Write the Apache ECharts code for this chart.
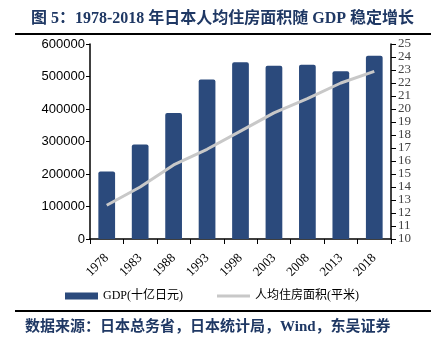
<!DOCTYPE html>
<html><head><meta charset="utf-8">
<script src="https://cdn.jsdelivr.net/npm/echarts@6/dist/echarts.min.js"></script>
<style>html,body{margin:0;padding:0;background:#fff}#c{width:442px;height:339px}</style>
</head><body><div id="c"></div>
<script>
const categories = ['1978','1983','1988','1993','1998','2003','2008','2013','2018'];
const gdpValues = [208000, 291000, 388000, 491000, 544000, 533000, 536000, 516000, 564000];
const areaValues = [12.6, 14.0, 15.7, 16.9, 18.3, 19.7, 20.8, 22.0, 22.9];
const seriesNames = ['GDP(十亿日元)', '人均住房面积(平米)'];
const titleText = '图 5：1978-2018 年日本人均住房面积随 GDP 稳定增长';
const sourceText = '数据来源：日本总务省，日本统计局，Wind，东吴证券';

const chart = echarts.init(document.getElementById('c'), null, {renderer: 'canvas'});
const serifFont = '"Liberation Serif", "Times New Roman", "Noto Sans CJK SC", serif';
const sansFont = '"Liberation Sans", Arial, sans-serif';
chart.setOption({
  animation: false,
  backgroundColor: '#fff',
  title: {
    text: titleText, left: 26, top: 6,
    textStyle: {fontSize: 16, fontWeight: 'bold', color: '#1f3864', fontFamily: '"Liberation Serif", "Noto Sans CJK SC", serif'}
  },
  graphic: [
    {type: 'line', shape: {x1: 15, y1: 34, x2: 431, y2: 34}, style: {stroke: '#000', lineWidth: 2}},
    {type: 'line', shape: {x1: 15, y1: 311, x2: 431, y2: 311}, style: {stroke: '#000', lineWidth: 2}},
    {type: 'text', left: 25, top: 320, style: {text: sourceText, fill: '#1f3864', font: 'bold 15px "Liberation Serif", "Noto Sans CJK SC", serif'}}
  ],
  legend: {
    top: 285, left: 60, itemGap: 34, itemWidth: 33, itemHeight: 7,
    textStyle: {fontSize: 12, color: '#000', fontFamily: serifFont},
    data: [
      {name: seriesNames[0], icon: 'rect'},
      {name: seriesNames[1], icon: 'path://M0,0 H100 V9 H0 Z'}
    ]
  },
  grid: {left: 90, right: 51, top: 44, bottom: 100},
  xAxis: {
    type: 'category', data: categories, boundaryGap: true,
    axisLine: {lineStyle: {color: '#000', width: 1.5}},
    axisTick: {show: true, alignWithLabel: false, length: 5, lineStyle: {color: '#000'}},
    axisLabel: {rotate: 45, fontSize: 13, color: '#000', fontFamily: serifFont, margin: 17}
  },
  yAxis: [
    {
      type: 'value', min: 0, max: 600000, interval: 100000,
      axisLine: {show: true, lineStyle: {color: '#000', width: 1.5}},
      axisTick: {show: true, length: 4, lineStyle: {color: '#000'}},
      splitLine: {show: false},
      axisLabel: {fontSize: 13, color: '#000', fontFamily: sansFont, margin: 5, formatter: function (v) { return String(v); }}
    },
    {
      type: 'value', min: 10, max: 25, interval: 1, position: 'right',
      axisLine: {show: true, lineStyle: {color: '#000', width: 1.5}},
      axisTick: {show: true, length: 5, lineStyle: {color: '#000'}},
      splitLine: {show: false},
      axisLabel: {fontSize: 13, color: '#444', fontFamily: serifFont, margin: 7}
    }
  ],
  series: [
    {
      name: seriesNames[0], type: 'bar', data: gdpValues, yAxisIndex: 0,
      barWidth: '50%', itemStyle: {color: '#2b4a7c', borderRadius: [2, 2, 0, 0]}
    },
    {
      name: seriesNames[1], type: 'line', data: areaValues, yAxisIndex: 1,
      symbol: 'none', lineStyle: {color: '#c8c8c8', width: 3}, itemStyle: {color: '#c8c8c8'}
    }
  ]
});
</script></body></html>
